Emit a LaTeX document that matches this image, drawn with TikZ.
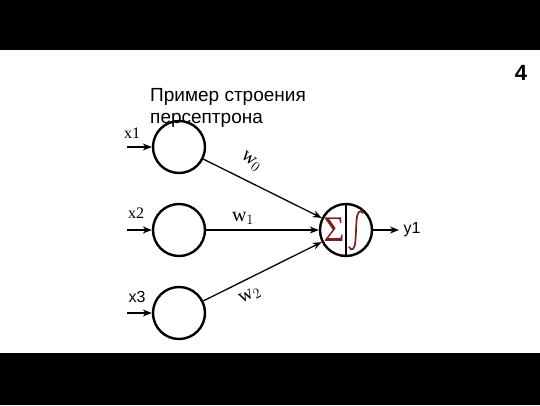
\documentclass[tikz,border=0pt]{standalone}
\usepackage{fontspec}
\setmainfont{Liberation Serif}
\setsansfont{Liberation Sans}
\usetikzlibrary{arrows.meta}
\definecolor{sigred}{HTML}{7A1F1F}
\begin{document}
\begin{tikzpicture}[x=1pt,y=-1pt,
  neuron/.style={circle,draw,line width=2.4pt,minimum size=52pt,inner sep=0pt},
  conn/.style={line width=1.3pt,-{Stealth[length=9pt,width=7pt]}},
  wlab/.style={font=\fontsize{20}{20}\selectfont,inner sep=1pt},
  inlab/.style={font=\fontsize{16}{16}\selectfont}]
\fill[black] (0,0) rectangle (540,50);
\fill[black] (0,353) rectangle (540,405);
\useasboundingbox (0,0) rectangle (540,405);
\node[anchor=north west,align=left,font=\sffamily\fontsize{19}{22}\selectfont,inner sep=0pt] (title) at (150,88) {Пример строения\\персептрона};
\node[font=\sffamily\bfseries\fontsize{22}{22}\selectfont] (num) at (521,73) {4};
\node[neuron] (n1) at (179,147) {};
\node[neuron] (n2) at (179,230) {};
\node[neuron] (n3) at (179,313) {};
\node[neuron] (out) at (346,230) {};
\draw[line width=1.4pt] (out.north) -- (out.south);
\node[text=sigred,font=\fontsize{36}{36}\selectfont,inner sep=0pt] (sig) at (334,230) {Σ};
\draw[sigred,line width=1.7pt,line cap=round]
  (349,247) .. controls (352,252) and (355,249) .. (355.5,240)
  -- (356.5,221) .. controls (357,212) and (360,209) .. (363,213);
\coordinate (i1) at (127,147);
\coordinate (i2) at (127,230);
\coordinate (i3) at (127,313);
\draw[conn] (i1) -- (n1);
\draw[conn] (i2) -- (n2);
\draw[conn] (i3) -- (n3);
\node[inlab] (l1) at (132,133) {x1};
\node[inlab] (l2) at (136,213) {x2};
\node[inlab,font=\sffamily\fontsize{16}{16}\selectfont] (l3) at (137,297) {x3};
\draw[conn] (n1) -- (out);
\draw[conn] (n2) -- (out);
\draw[conn] (n3) -- (out);
\coordinate (o) at (399,230);
\draw[conn] (out) -- (o);
\node[anchor=west,font=\sffamily\fontsize{16}{16}\selectfont] (y) at (400,230) {y1};
\node[wlab,rotate=-38] (w0) at (251,162) {w$_0$};
\node[wlab] (w1) at (243,218) {w$_1$};
\node[wlab,rotate=27] (w2) at (250,296) {w$_2$};
\end{tikzpicture}
\end{document}
